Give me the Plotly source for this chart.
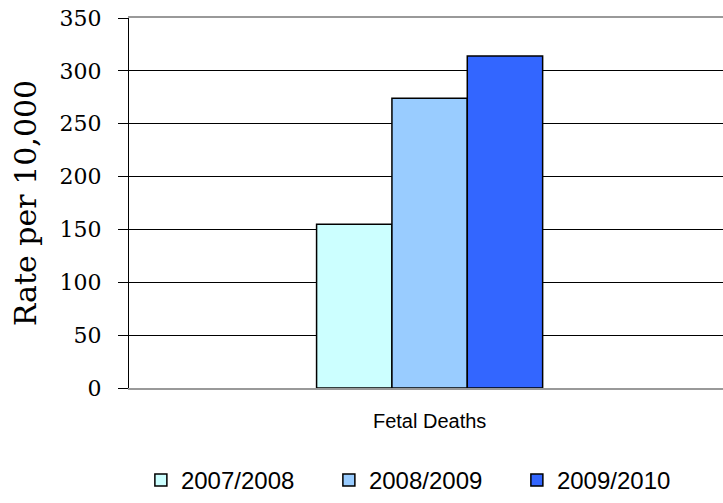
import plotly.graph_objects as go

categories = ["Fetal Deaths"]
series_names = ["2007/2008", "2008/2009", "2009/2010"]
series_values = [[155], [274], [314]]
series_colors = ["#CCFFFF", "#99CCFF", "#3366FF"]
y_ticks = [0, 50, 100, 150, 200, 250, 300, 350]

fig = go.Figure()
for name, vals, col in zip(series_names, series_values, series_colors):
    fig.add_trace(go.Bar(
        x=categories, y=vals, name=name,
        marker=dict(color=col, line=dict(color="black", width=1.5)),
    ))

fig.update_layout(
    width=723, height=503,
    margin=dict(l=129, r=0, t=18, b=115),
    paper_bgcolor="white", plot_bgcolor="white",
    barmode="group", bargap=0.624, bargroupgap=0,
    showlegend=True,
    legend=dict(
        orientation="h", x=0.02, xanchor="left",
        yref="container", y=-0.012, yanchor="bottom",
        entrywidth=143, entrywidthmode="pixels",
        font=dict(family="Liberation Sans, Arial, sans-serif", size=24, color="black"),
        traceorder="normal",
    ),
    xaxis=dict(
        range=[-0.5, 0.488],
        showline=True, linecolor="#999999", linewidth=2, mirror=True,
        ticks="", showgrid=False, zeroline=False,
        tickfont=dict(family="Liberation Sans, Arial, sans-serif", size=20, color="black"),
        ticklabelstandoff=14,
    ),
    yaxis=dict(
        range=[0, 350], tickvals=y_ticks,
        showline=True, linecolor="black", linewidth=1,
        ticks="outside", ticklen=10, tickcolor="black", tickwidth=1,
        showgrid=True, gridcolor="black", gridwidth=1,
        zeroline=True, zerolinecolor="black", zerolinewidth=1,
        tickfont=dict(family="DejaVu Serif, serif", size=22, color="black"),
        ticklabelstandoff=12,
        title=dict(text="Rate per 10,000", standoff=14,
                   font=dict(family="DejaVu Serif, serif", size=30, color="black")),
    ),
)

fig.write_html("out.html")
